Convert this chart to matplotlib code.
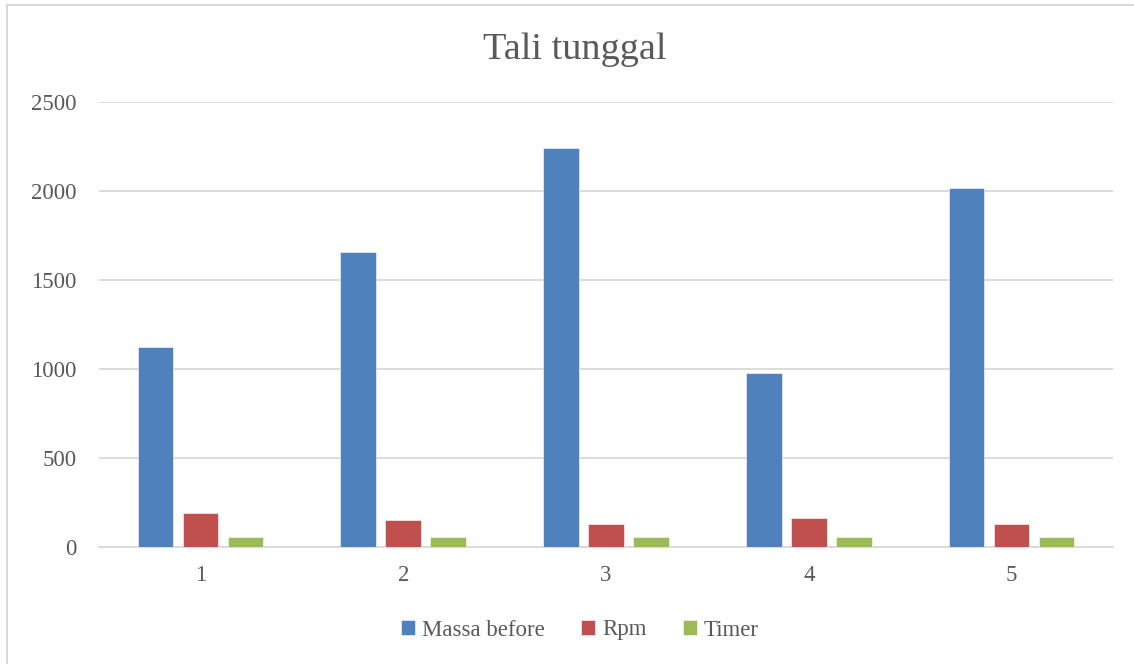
import matplotlib
matplotlib.use("Agg")
import matplotlib.pyplot as plt
import numpy as np
from matplotlib.patches import Rectangle

categories = ["1", "2", "3", "4", "5"]
massa_before = [1124, 1660, 2240, 978, 2019]
rpm = [191, 154, 131, 161, 130]
timer = [58, 58, 58, 58, 58]

series = [
    ("Massa before", massa_before, "#4f81bd"),
    ("Rpm", rpm, "#c0504d"),
    ("Timer", timer, "#9bbb59"),
]

plt.rcParams["font.family"] = ["Liberation Serif", "DejaVu Serif"]
text_color = "#595959"

fig = plt.figure(figsize=(11.34, 6.64), dpi=100)
ax = fig.add_axes([99 / 1134, 1 - 547 / 664, 1014 / 1134, 445 / 664])

x = np.arange(len(categories))
width = 0.175
step = 0.222
for i, (name, vals, color) in enumerate(series):
    ax.bar(x + (i - 1) * step, vals, width, color=color, label=name,
           edgecolor="white", linewidth=0.4, zorder=3)

ax.set_xlim(-0.5, len(categories) - 0.5)
ax.set_ylim(0, 2500)
ax.set_yticks(range(0, 2501, 500))
ax.set_xticks(x)
ax.set_xticklabels(categories)
ax.grid(axis="y", color="#d9d9d9", linewidth=1.3, zorder=0)
for s in ["top", "right", "left"]:
    ax.spines[s].set_visible(False)
ax.spines["bottom"].set_color("#d9d9d9")
ax.spines["bottom"].set_linewidth(1.3)
ax.tick_params(axis="both", length=0, labelsize=16.5, colors=text_color)
ax.tick_params(axis="y", pad=16)
ax.tick_params(axis="x", pad=13)

fig.suptitle("Tali tunggal", x=575 / 1134, y=1 - 50 / 664, va="center",
             fontsize=27.5, color=text_color)

fig.legend(loc="center", bbox_to_anchor=(580 / 1134, 1 - 630 / 664), ncol=3,
           frameon=False, fontsize=16.5, handlelength=0.6, handleheight=0.6,
           handletextpad=0.3, columnspacing=1.6, labelcolor=text_color)

# outer chart frame
fig.add_artist(Rectangle((7 / 1134, -0.05), 1.2, 1 - 5 / 664 + 0.05,
                         transform=fig.transFigure, fill=False,
                         edgecolor="#d9d9d9", linewidth=1.5))

fig.savefig("out.png", dpi=100, facecolor="white")
